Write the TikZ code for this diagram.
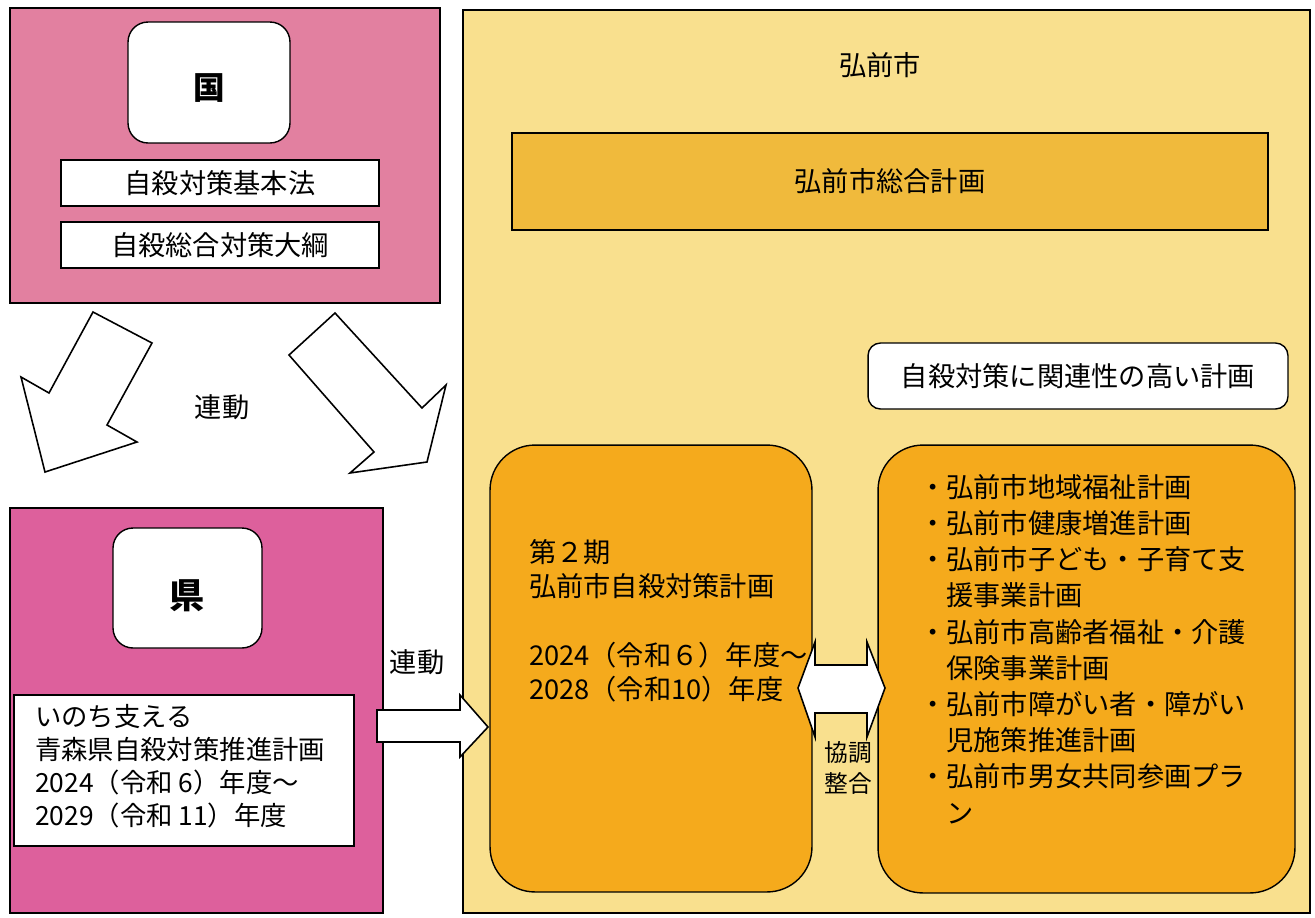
\documentclass[tikz,border=0pt]{standalone}
\usepackage{fontspec}
\newfontfamily\jp{Noto Sans CJK JP}
\usepackage{xcolor}
\usepackage{tikz}

\definecolor{kunipink}{RGB}{226,128,160}
\definecolor{kenpink}{RGB}{221,96,156}
\definecolor{cityyellow}{RGB}{249,224,142}
\definecolor{sogoorange}{RGB}{240,186,60}
\definecolor{planorange}{RGB}{245,170,28}

\begin{document}
\begin{tikzpicture}[ x = 0.02cm, y = -0.02cm, font = \jp\fontsize{15.5}{19}\selectfont ]
        \tikzset{area/.style={draw, line width=0.8pt, inner sep=0pt},
                 whitebox/.style={draw, fill=white, line width=0.8pt, inner sep=0pt},
                 blockarrow/.style={draw, fill=white, line width=0.9pt, line join=miter}}   % hollow arrows

        \fill[white] (0,0) rectangle (1315,917);
        \useasboundingbox (0,0) rectangle (1315,917);

        % national
        \node[area, fill=kunipink, minimum width=8.6cm, minimum height=5.9cm] (kuni) at (225,155.5) {};
        \node[whitebox, rounded corners=0.4cm, minimum width=3.24cm, minimum height=2.42cm] (kunilabel) at (209,82.5) {};
        \node[font=\jp\fontsize{18}{20}\selectfont\bfseries] (kunitext) at (209,88) {国};
        \node[whitebox, minimum width=6.36cm, minimum height=0.92cm] (kihonho) at (220,183) {自殺対策基本法};
        \node[whitebox, minimum width=6.36cm, minimum height=0.92cm] (taiko) at (220,245) {自殺総合対策大綱};

        \draw[blockarrow] (93,312) -- (152,343) -- (107,425) -- (137,442) -- (45,472) -- (21,377) -- (49,393) -- cycle;
        \draw[blockarrow] (335,313) -- (422,408) -- (446,385) -- (427,462) -- (350,473) -- (374,452) -- (289,355) -- cycle;
        \node (rendoA) at (222,407) {連動};

        % prefecture
        \node[area, fill=kenpink, minimum width=7.46cm, minimum height=8.1cm] (ken) at (196.5,710.5) {};
        \node[whitebox, rounded corners=0.4cm, minimum width=2.98cm, minimum height=2.4cm] (kenlabel) at (187.5,588) {};
        \node[font=\jp\fontsize{20}{22}\selectfont\bfseries] (kentitle) at (187.5,596) {県};
        \node[whitebox, minimum width=6.8cm, minimum height=3.02cm] (kenplan) at (184,770.5) {};
        \node[anchor=west, align=left, font=\jp\fontsize{15}{18.7}\selectfont] (kentext) at (29,766)
              {いのち支える\\青森県自殺対策推進計画\\2024（令和 6）年度～\\2029（令和 11）年度};

        % city
        \node[area, fill=cityyellow, minimum width=16.94cm, minimum height=18.06cm] (city) at (886.5,461.5) {};
        \node (citytitle) at (880,65) {弘前市};
        \node[area, fill=sogoorange, minimum width=15.12cm, minimum height=1.94cm] (sogo) at (890,181.5) {弘前市総合計画};
        \node[whitebox, rounded corners=0.25cm, minimum width=8.4cm, minimum height=1.32cm] (kanren) at (1078,376)
              {自殺対策に関連性の高い計画};
        \node[area, fill=planorange, rounded corners=0.9cm, minimum width=6.44cm, minimum height=8.94cm] (shiplan) at (651,668.5) {};
        \node[area, fill=planorange, rounded corners=0.9cm, minimum width=8.34cm, minimum height=8.96cm] (kanrenplans) at (1086.5,669) {};
        \node[anchor=west, align=left, font=\jp\fontsize{15.5}{19.5}\selectfont] (shitext) at (523,621)
              {第２期\\弘前市自殺対策計画\\[19.5pt]2024（令和６）年度～\\2028（令和10）年度};
        \node[anchor=west, align=left, font=\jp\fontsize{15.5}{20.6}\selectfont] (kanrentext) at (913,649)
              {・弘前市地域福祉計画\\・弘前市健康増進計画\\・弘前市子ども・子育て支\\\phantom{・}援事業計画\\%
               ・弘前市高齢者福祉・介護\\\phantom{・}保険事業計画\\・弘前市障がい者・障がい\\\phantom{・}児施策推進計画\\%
               ・弘前市男女共同参画プラ\\\phantom{・}ン};

        % links
        \draw[blockarrow] (377,710) -- (460,710) -- (460,695) -- (488,727) -- (460,757) -- (460,742) -- (377,742) -- cycle;
        \node (rendoB) at (417,662) {連動};
        \draw[blockarrow] (798,688) -- (815,642) -- (815,665) -- (867,665) -- (867,642) -- (885,688)
              -- (867,737) -- (867,713) -- (815,713) -- (815,737) -- cycle;
        \node[align=center, font=\jp\fontsize{13.5}{17.6}\selectfont] (kyocho) at (848,768) {協調\\整合};

      \end{tikzpicture}
\end{document}
